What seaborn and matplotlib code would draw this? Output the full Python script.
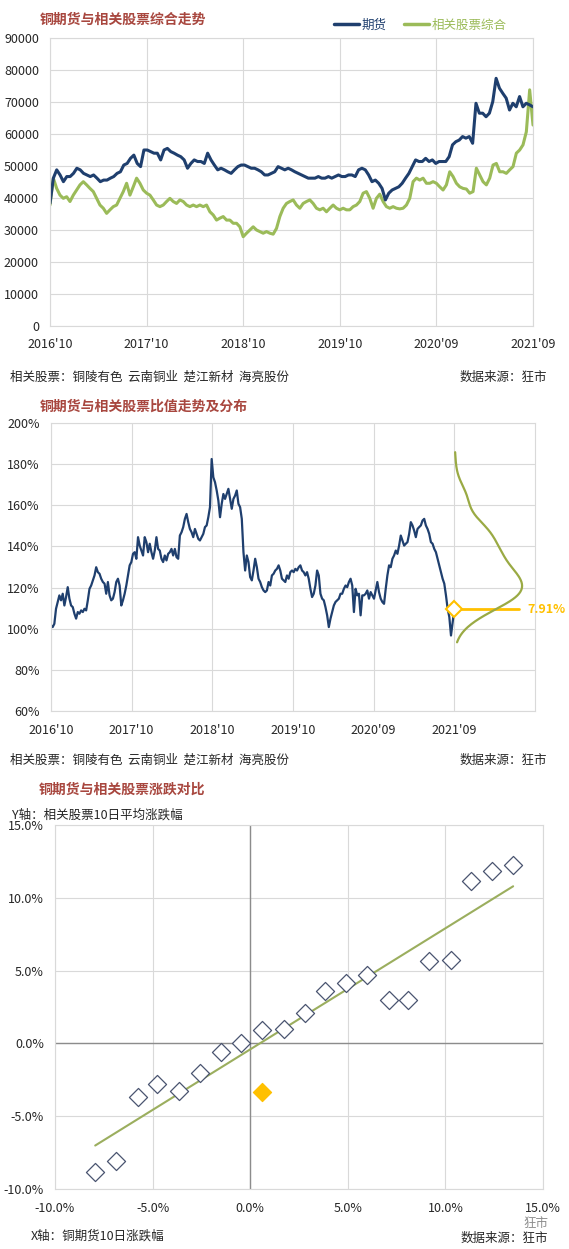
import numpy as np
import pandas as pd
import seaborn as sns
import matplotlib.pyplot as plt
from matplotlib.ticker import FuncFormatter

# 图1：铜期货与相关股票综合走势（数值读自原图）
fechas = ["2016'10", "2017'10", "2018'10", "2019'10", "2020'09", "2021'09"]

futuros = [38300, 46200, 48800, 47200, 45100, 46700, 46700, 47700, 49300, 48800,
           47700, 47200, 46700, 47200, 46200, 45100, 45600, 45600, 46200, 46700,
           47700, 48200, 50300, 50800, 52400, 53400, 50800, 49800, 55000, 55000,
           54500, 54000, 54000, 51900, 55000, 55500, 54500, 54000, 53400, 52900,
           51900, 49300, 50800, 51900, 51400, 51400, 50800, 54000, 51900, 50300,
           48800, 49300, 48800, 48200, 47700, 48800, 49800, 50300, 50300, 49800,
           49300, 49300, 48800, 48200, 47200, 47200, 47700, 48200, 49800, 49300,
           48800, 49300, 48800, 48200, 47700, 47200, 46700, 46200, 46200, 46200,
           46700, 46200, 46200, 46700, 46200, 46700, 47200, 46700, 46700, 47200,
           47200, 46700, 48800, 49300, 48800, 47200, 45100, 45600, 44600, 43000,
           39400, 41500, 42500, 43000, 43500, 44600, 46200, 47700, 49800, 51900,
           51400, 51400, 52400, 51400, 51900, 50800, 51400, 51400, 51400, 52900,
           56600, 57600, 58100, 59200, 58700, 59200, 57100, 69600, 66500, 66500,
           65400, 66500, 70100, 77400, 74300, 72700, 71200, 67500, 69600, 68500,
           71700, 68500, 69600, 69100, 68500]

acciones = [37800, 46200, 43000, 40900, 39900, 40400, 38900, 40900, 42500, 44100,
            45100, 44100, 43000, 42000, 39900, 37800, 36800, 35200, 36300, 37300,
            37800, 39900, 42000, 44600, 40900, 43500, 46200, 44600, 42500, 41500,
            40900, 39400, 37800, 37300, 37800, 38900, 39900, 38900, 38300, 39400,
            38900, 37800, 37300, 37800, 37300, 37800, 37300, 37800, 35700, 34700,
            33100, 33700, 34200, 33100, 33100, 32100, 32100, 31000, 27900, 29000,
            30000, 31000, 30000, 29500, 29000, 29500, 29000, 28700, 30500, 34200,
            36800, 38300, 38900, 39400, 37800, 36800, 38300, 38900, 39400, 38300,
            36800, 36300, 36800, 35700, 36800, 37800, 36800, 36300, 36800, 36300,
            36300, 37300, 37800, 38900, 41500, 42000, 39900, 36800, 39900, 41200,
            38900, 37300, 36800, 37300, 36800, 36600, 36800, 37800, 39900, 45100,
            46200, 45600, 46200, 44600, 44600, 45100, 44600, 43500, 42500, 44100,
            48200, 46700, 44600, 43500, 43000, 42800, 41500, 42000, 49300, 47200,
            45100, 44100, 46200, 50300, 50800, 48200, 48200, 47700, 48800, 49800,
            54000, 55000, 56600, 60700, 73800, 62800]

# 图2：比值（%）
ratio = [101.6, 100.8, 102.4, 109.7, 113.0, 116.2, 113.8, 117.0, 111.3, 115.4,
         120.2, 114.6, 111.3, 110.5, 107.3, 104.9, 108.1, 107.3, 108.9, 108.1,
         109.7, 108.9, 113.8, 119.4, 121.0, 123.5, 125.9, 129.9, 127.5, 126.7,
         124.3, 122.7, 121.9, 117.0, 122.7, 116.2, 113.8, 114.6, 117.8, 122.7,
         124.3, 121.0, 111.3, 113.8, 117.0, 121.0, 125.9, 130.8, 132.4, 136.4,
         137.2, 134.0, 144.5, 140.4, 138.0, 135.6, 144.5, 142.1, 137.2, 141.3,
         137.2, 134.0, 138.0, 144.5, 138.8, 138.0, 134.0, 132.4, 135.6, 133.2,
         136.4, 137.2, 138.8, 135.6, 138.8, 134.8, 134.0, 145.3, 146.9, 149.4,
         153.4, 155.8, 151.8, 148.5, 146.9, 144.5, 148.5, 146.1, 143.7, 142.9,
         144.5, 146.1, 149.4, 150.2, 154.2, 159.1, 182.5, 173.6, 171.2, 167.2,
         162.3, 154.2, 160.7, 165.5, 163.1, 165.5, 168.0, 163.1, 158.3, 163.1,
         164.7, 167.2, 160.7, 159.1, 153.4, 137.2, 128.3, 135.6, 132.4, 125.1,
         123.5, 128.3, 134.0, 129.9, 124.3, 122.7, 120.2, 118.6, 117.8, 118.6,
         122.7, 121.0, 125.9, 126.7, 128.3, 129.1, 130.8, 128.3, 124.3, 123.5,
         122.7, 125.9, 124.3, 127.5, 128.3, 127.5, 129.1, 128.3, 129.9, 130.8,
         128.3, 127.5, 125.9, 127.5, 124.3, 119.4, 115.4, 117.0, 121.0, 128.3,
         125.9, 117.0, 114.6, 113.8, 110.5, 106.5, 100.8, 104.9, 108.1, 111.3,
         113.0, 113.8, 114.6, 117.0, 117.0, 119.4, 121.0, 120.2, 122.7, 124.3,
         121.0, 108.1, 119.4, 116.2, 117.0, 106.5, 116.2, 116.2, 117.0, 118.6,
         114.6, 117.8, 116.2, 114.6, 118.6, 122.7, 117.8, 114.6, 113.0, 112.1,
         119.4, 125.9, 130.8, 129.9, 134.0, 135.6, 138.0, 136.4, 140.4, 145.3,
         142.9, 140.4, 141.3, 142.1, 146.1, 151.8, 150.2, 147.7, 144.5, 148.5,
         149.4, 150.2, 152.6, 153.4, 150.2, 148.5, 146.1, 142.1, 141.3, 138.8,
         137.2, 134.0, 130.8, 127.5, 124.3, 121.9, 116.2, 109.7, 105.7, 96.7,
         103.2, 109.5]
percentil_actual = '7.91%'

# 图3：10日涨跌幅（%）
x_futuros = [-7.94, -6.86, -5.76, -4.76, -3.64, -2.56, -1.49, -0.45, 0.62, 1.72, 2.80,
             3.83, 4.90, 6.00, 7.10, 8.09, 9.18, 10.27, 11.30, 12.39, 13.47]
y_acciones = [-8.83, -8.09, -3.66, -2.77, -3.29, -2.01, -0.57, 0.00, 0.89, 0.96, 2.06,
              3.57, 4.14, 4.71, 2.95, 3.00, 5.67, 5.74, 11.16, 11.87, 12.28]
x_hoy = [0.62]
y_hoy = [-3.31]

NAVY = '#1F3F6E'
GREEN = '#9BBB59'
KDE_GREEN = '#9AAA44'
GOLD = '#FFC000'
ROJO = '#A8473F'
GRIS = '#D9D9D9'
TXT = '#262626'

sns.set_theme(style='whitegrid')
plt.rcParams['font.family'] = ['Noto Sans CJK SC', 'DejaVu Sans']
plt.rcParams['axes.unicode_minus'] = False

W, H = 569, 1249
fig = plt.figure(figsize=(W / 100, H / 100), dpi=100)
fig.patch.set_facecolor('white')


def estilo(ax):
    ax.grid(True, color=GRIS, lw=0.8)
    for s in ax.spines.values():
        s.set_visible(True)
        s.set_color(GRIS)
        s.set_linewidth(0.8)
    ax.tick_params(axis='both', labelsize=9, colors=TXT, length=0)
    ax.tick_params(axis='x', pad=9)
    ax.tick_params(axis='y', pad=8)
    ax.set_xlabel('')
    ax.set_ylabel('')


def ftext(px, py, s, **kw):
    kw.setdefault('fontsize', 9)
    kw.setdefault('color', TXT)
    kw.setdefault('va', 'center')
    fig.text(px / W, 1 - py / H, s, **kw)


# --- 图1 ---
ax1 = fig.add_axes([50 / W, 1 - 326 / H, 483 / W, 288 / H])
sns.lineplot(x=np.linspace(0, 5, len(acciones)), y=acciones, ax=ax1, color=GREEN, lw=2.2)
sns.lineplot(x=np.linspace(0, 5, len(futuros)), y=futuros, ax=ax1, color=NAVY, lw=2.2)
ax1.set_xlim(0, 5)
ax1.set_ylim(0, 90000)
ax1.set_yticks(range(0, 90001, 10000))
ax1.set_xticks(range(6))
ax1.set_xticklabels(fechas)
estilo(ax1)
h_fut, = ax1.plot([], [], color=NAVY, lw=2.5)
h_acc, = ax1.plot([], [], color=GREEN, lw=2.5)
ax1.legend([h_fut, h_acc], ['期货', '相关股票综合'], loc='center right',
           bbox_to_anchor=(518 / W, 1 - 25 / H), bbox_transform=fig.transFigure,
           ncol=2, frameon=False, labelcolor='linecolor', fontsize=9,
           handlelength=2.0, handletextpad=0.2, columnspacing=1.4)

ftext(40, 20, '铜期货与相关股票综合走势', color=ROJO, fontsize=10, fontweight='bold')
ftext(10, 377, '相关股票：铜陵有色  云南铜业  楚江新材  海亮股份')
ftext(547, 377, '数据来源：狂市', ha='right')

# --- 图2 ---
ax2 = fig.add_axes([51 / W, 1 - 711 / H, 484 / W, 288 / H])
sns.lineplot(x=np.linspace(0, 5, len(ratio)), y=ratio, ax=ax2, color=NAVY, lw=1.6)
ax2.set_xlim(0, 6)
ax2.set_ylim(60, 200)
ax2.set_yticks(range(60, 201, 20))
ax2.yaxis.set_major_formatter(FuncFormatter(lambda v, p: f'{v:.0f}%'))
ax2.set_xticks(range(6))
ax2.set_xticklabels(fechas)
estilo(ax2)

# 分布曲线（侧放的密度）
ins = ax2.inset_axes([5, 60, 1, 140], transform=ax2.transData)
sns.kdeplot(y=ratio, ax=ins, color=KDE_GREEN, lw=1.6, cut=0.6)
pico = max(ins.lines[0].get_xdata())
ins.set_xlim(0, pico / 0.84)
ins.set_ylim(60, 200)
ins.set_xlabel('')
ins.set_ylabel('')
ins.set_xticks([])
ins.set_yticks([])
ins.axis('off')

ax2.plot([5, 5.8], [ratio[-1], ratio[-1]], color=GOLD, lw=2, zorder=5)
ax2.plot([5], [ratio[-1]], marker='D', ms=8, mfc='white', mec=GOLD, mew=1.5, zorder=6)
ax2.text(5.91, ratio[-1], percentil_actual, color=GOLD, fontsize=9, fontweight='bold',
         va='center', clip_on=False)

ftext(40, 407, '铜期货与相关股票比值走势及分布', color=ROJO, fontsize=10, fontweight='bold')
ftext(10, 760, '相关股票：铜陵有色  云南铜业  楚江新材  海亮股份')
ftext(547, 760, '数据来源：狂市', ha='right')

# --- 图3 ---
ax3 = fig.add_axes([55 / W, 1 - 1189 / H, 488 / W, 364 / H])
ax3.axvline(0, color='#8C8C8C', lw=1, zorder=1)
ax3.axhline(0, color='#8C8C8C', lw=1, zorder=1)
sns.regplot(x=x_futuros, y=y_acciones, ax=ax3, scatter=False, ci=None,
            line_kws=dict(color='#9BAE5E', lw=1.5))
sns.scatterplot(x=x_futuros, y=y_acciones, ax=ax3, marker='D', s=85,
                color='white', edgecolor='#4A5470', linewidth=0.9, zorder=4)
sns.scatterplot(x=x_hoy, y=y_hoy, ax=ax3, marker='D', s=85,
                color=GOLD, edgecolor=GOLD, linewidth=0.9, zorder=4)
ax3.set_xlim(-10, 15)
ax3.set_ylim(-10, 15)
ax3.set_xticks(range(-10, 16, 5))
ax3.set_yticks(range(-10, 16, 5))
fmt = FuncFormatter(lambda v, p: f'{v:.1f}%')
ax3.xaxis.set_major_formatter(fmt)
ax3.yaxis.set_major_formatter(fmt)
estilo(ax3)

ftext(39, 790, '铜期货与相关股票涨跌对比', color=ROJO, fontsize=10, fontweight='bold')
ftext(12, 815, 'Y轴：相关股票10日平均涨跌幅')
ftext(31, 1236, 'X轴：铜期货10日涨跌幅')
ftext(548, 1238, '数据来源：狂市', ha='right')
ftext(548, 1223, '狂市', ha='right', color='#8C8C8C', fontsize=9)

fig.savefig('out.png', dpi=100, facecolor='white')
